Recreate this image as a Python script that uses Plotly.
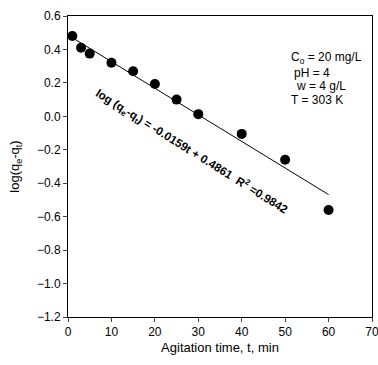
import plotly.graph_objects as go

t_vals = [1, 3, 5, 10, 15, 20, 25, 30, 40, 50, 60]
logq = [0.48, 0.41, 0.375, 0.32, 0.27, 0.193, 0.10, 0.013, -0.105, -0.26, -0.56]
fit_t = [1, 60]
slope = -0.0159
intercept = 0.4861
fit_y = [slope * t + intercept for t in fit_t]

x_ticks = [0, 10, 20, 30, 40, 50, 60, 70]
y_ticks = [0.6, 0.4, 0.2, 0.0, -0.2, -0.4, -0.6, -0.8, -1.0, -1.2]

font = "Liberation Sans, Arial, sans-serif"

fig = go.Figure()
fig.add_trace(go.Scatter(x=fit_t, y=fit_y, mode="lines",
                         line=dict(color="black", width=1), showlegend=False, cliponaxis=False))
fig.add_trace(go.Scatter(x=t_vals, y=logq, mode="markers",
                         marker=dict(color="black", size=10), showlegend=False, cliponaxis=False))

def px_to_x(px):
    return (px - 68) / 303.7 * 70

def py_to_y(py):
    return 0.6 - (py - 15.7) / 301.6 * 1.8

fig.add_annotation(x=px_to_x(191), y=py_to_y(151), xref="x", yref="y",
                   text="<b>log (q<sub>e</sub>-q<sub>t</sub>) = -0.0159t + 0.4861  R<sup>2</sup> =0.9842</b>",
                   showarrow=False, textangle=32, font=dict(size=11.6, color="black", family=font))

info = ["C<sub>o</sub> = 20 mg/L", "pH = 4", "w = 4 g/L", "T = 303 K"]
info_x = [289, 292, 294, 289]
info_y = [58, 72.5, 86, 100]
for txt, px, py in zip(info, info_x, info_y):
    fig.add_annotation(x=px_to_x(px), y=py_to_y(py),
                       xref="x", yref="y", xanchor="left", yanchor="middle",
                       text=txt, showarrow=False,
                       font=dict(size=12, color="black", family=font))

fig.update_xaxes(range=[0, 70], tickvals=x_ticks, ticks="outside", ticklen=4,
                 showline=True, linecolor="black", linewidth=1, mirror=True,
                 showgrid=False, zeroline=False, automargin=False,
                 ticklabeloverflow="allow",
                 title=dict(text="Agitation time, t, min", font=dict(size=13, family=font), standoff=4),
                 tickfont=dict(size=12, family=font))
fig.update_yaxes(range=[-1.2, 0.6], tickvals=y_ticks, tickformat=".1f", ticks="outside", ticklen=4,
                 showline=True, linecolor="black", linewidth=1, mirror=True,
                 showgrid=False, zeroline=False, automargin=False,
                 title=dict(text="log(q<sub>e</sub>-q<sub>t</sub>)", font=dict(size=13, family=font), standoff=14),
                 tickfont=dict(size=12, family=font))

fig.update_layout(width=378, height=365, margin=dict(l=68, r=6.3, t=15.7, b=47.7),
                  plot_bgcolor="white", paper_bgcolor="white",
                  font=dict(family=font, color="black"))

fig.write_html("out.html", config={"displayModeBar": False},
               post_script="document.body.style.margin='0';")
